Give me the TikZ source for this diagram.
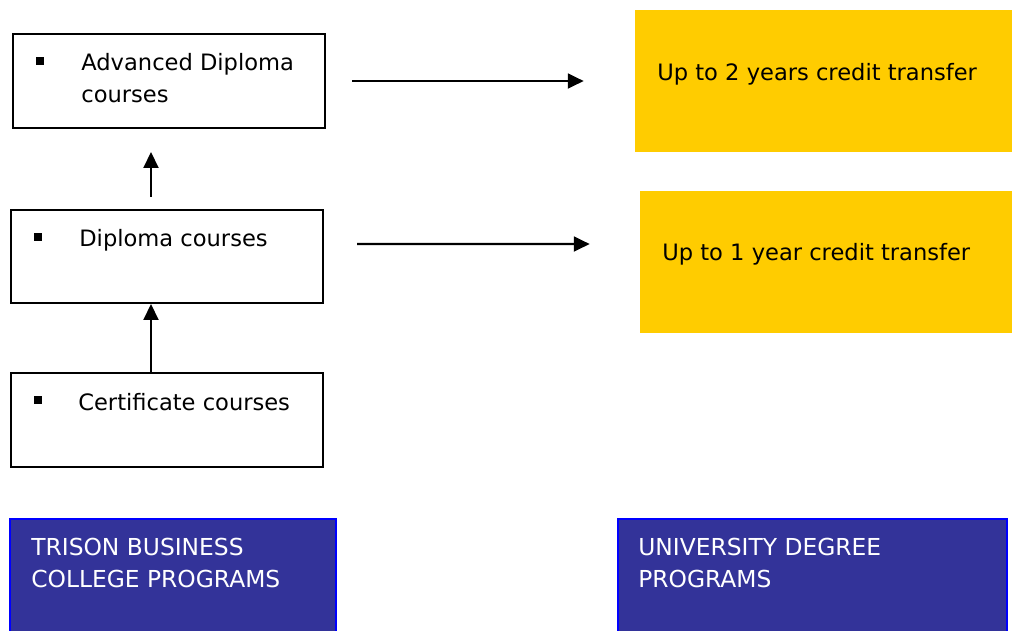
\documentclass[tikz,border=0pt]{standalone}
\usepackage{fontspec}
\setmainfont{DejaVu Sans}
\usetikzlibrary{positioning,fit,calc,arrows.meta}

\definecolor{credit}{HTML}{FFCC00}
\definecolor{uni}{HTML}{333399}
\def\px{0.02cm}

\tikzset{
  course/.style={draw, line width=1.2pt, inner sep=0pt},
  credit/.style={fill=credit, inner sep=0pt},
  prog/.style={fill=uni, draw=blue, line width=1pt, inner sep=0pt},
  txt/.style={anchor=base west, inner sep=0pt, align=left,
    font=\fontsize{12.85}{18.1}\selectfont},
  progtxt/.style={txt, text=white, font=\fontsize{13.3}{18.1}\selectfont},
  bul/.style={fill=black, minimum size=7.5*\px, inner sep=0pt},
  link/.style={-{Triangle[length=9pt,width=8.5pt]}, line width=1.2pt},
}

\begin{document}
\begin{tikzpicture}[x=\px, y=-\px]
            \clip (0,0) rectangle (1012,630);

            % college side
            \node[course, fit={(13,34) (325,128)}] (adv) {};
            \node[course, fit={(11,210) (323,303)}] (dip) {};
            \node[course, fit={(11,373) (323,467)}] (cert) {};

            \node[bul] (adv-b) at (40,61) {};
            \node[bul] (dip-b) at (38,237) {};
            \node[bul] (cert-b) at (38,400) {};

            % base of a two line node is its last line
            \node[txt] (adv-t) at (81,102) {Advanced Diploma\\courses};
            \node[txt] (dip-t) at (79,246) {Diploma courses};
            \node[txt] (cert-t) at (78,410) {Certificate courses};

            % university side
            \node[credit, fit={(635,10) (1014,152)}] (two) {};
            \node[credit, fit={(640,191) (1014,333)}] (one) {};
            \node[txt] (two-t) at (657,80) {Up to 2 years credit transfer};
            \node[txt] (one-t) at (662,260) {Up to 1 year credit transfer};

            % programs
            \node[prog, fit={(10,519) (336,640)}] (col) {};
            \node[prog, fit={(618,519) (1007,640)}] (deg) {};
            \node[progtxt] (col-t) at (31,587) {TRISON BUSINESS\\COLLEGE PROGRAMS};
            \node[progtxt] (deg-t) at (638,587) {UNIVERSITY DEGREE\\PROGRAMS};

            % arrows
            \draw[link] ([xshift=26*\px]adv.east) -- ([xshift=-51*\px]two.west);
            \draw[link] ($(dip.east)+(33,-12.5)$) -- ($(one.west)+(-50,-18)$);
            \draw[link] ($(dip.north)+(-16,-12)$) -- ($(dip.north |- adv.south)+(-16,23)$);
            \draw[link] ([xshift=-16*\px]cert.north) -- ([xshift=-16*\px]dip.south);

        \end{tikzpicture}
\end{document}
